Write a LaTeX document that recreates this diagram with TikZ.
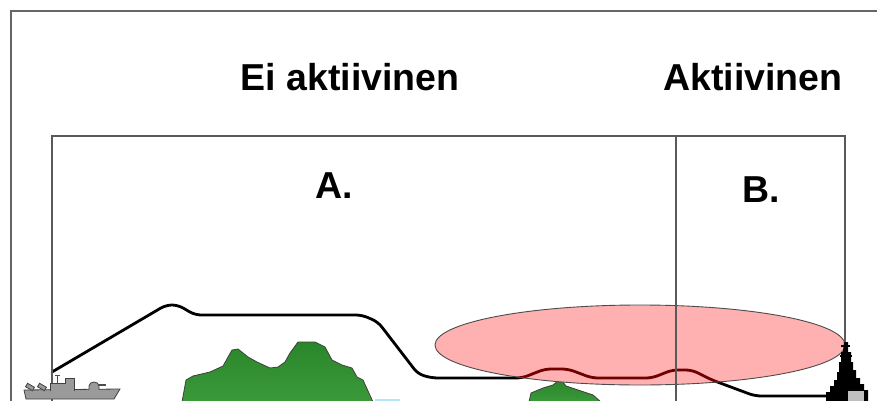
\documentclass[tikz,border=0pt]{standalone}
\usepackage{fontspec}
\setmainfont{Liberation Sans}
\definecolor{hilltop}{HTML}{2A862A}
\definecolor{hillbottom}{HTML}{3A9A3A}
\definecolor{zonepink}{HTML}{FFB0B0}
\definecolor{routered}{HTML}{700000}
\definecolor{shipgray}{HTML}{9A9A9A}
\begin{document}
\begin{tikzpicture}[x=1pt,y=-1pt,
  frameline/.style={draw=black!60, line width=1.6pt},
  boxline/.style={draw=black!65, line width=1.2pt},
  title/.style={font=\fontsize{37.5}{40}\selectfont\bfseries, anchor=base, inner sep=0pt},
  route/.style={line width=2.8pt, line join=round, line cap=round, rounded corners=6pt},
  hill/.style={top color=hilltop, bottom color=hillbottom, draw=black!75, line width=0.8pt},
  zone/.style={fill=zonepink, draw=black!70, line width=0.9pt},
  shippart/.style={fill=shipgray, draw=black!75, line width=0.8pt},
]
\useasboundingbox (0,0) rectangle (877,401);
\clip (0,0) rectangle (877,401);

% outer frame
\draw[frameline] (11,402) -- (11,11) -- (878,11);

% hills
\draw[hill] (182,402) -- (186,380) -- (193,376) -- (210,372) -- (223,366) -- (232,350)
  -- (238,349) -- (248,357) -- (257,362) -- (270,368) -- (278,367) -- (285,362)
  -- (290,353) -- (298,342) -- (315,342) -- (325,347) -- (332,360) -- (342,365)
  -- (352,368) -- (357,377) -- (363,380) -- (373,402) -- cycle;
\draw[hill] (529,402) -- (531,393) -- (543,388) -- (553,385) -- (558,381) -- (562,381)
  -- (566,386) -- (578,390) -- (593,395) -- (601,402) -- cycle;
\draw[cyan!30!white, line width=1.5pt] (375,400) -- (400,400);

% flight path
\def\flightpath{(52,372) -- (166,305) -- (178,305) -- (195,315) -- (362,315) -- (378,322)
  -- (418,374) -- (432,378) -- (522,378) -- (545,369) -- (568,369) -- (592,378)
  -- (652,378) -- (672,370) -- (692,370) -- (712,380) -- (755,396) -- (835,396)}
\draw[route] \flightpath;

% active zone
\fill[zonepink] (640,345) ellipse [x radius=205, y radius=40];
\begin{scope}
  \clip (640,345) ellipse [x radius=205, y radius=40];
  \draw[route, draw=routered] \flightpath;
\end{scope}
\draw[draw=black!70, line width=0.9pt] (640,345) ellipse [x radius=205, y radius=40];

% sector box
\draw[boxline] (52,402) -- (52,136) -- (845,136) -- (845,344);
\draw[boxline] (676,136) -- (676,402);

% left ship
\draw[shippart] (24,390) -- (120,389) -- (114,399) -- (26,399) -- cycle;
\draw[shippart] (50,391) -- (50,383) -- (65,383) -- (65,378) -- (74,378) -- (74,391);
\draw[black!70, line width=0.8pt] (57,383) -- (57,375) (55,375) -- (60,375);
\draw[shippart] (89,390) -- (89,386) to[out=90,in=180] (94,382) to[out=0,in=90] (99,386) -- (99,390);
\draw[black!70, line width=1.8pt] (98,385) -- (106,385);
\draw[shippart, rotate around={-30:(30,387)}] (26,385) rectangle (34,389);
\draw[shippart, rotate around={-30:(42,387)}] (38,385) rectangle (46,389);

% right ship
\fill[black] (844,342) -- (848,342) -- (848,352) -- (851,352) -- (851,362) -- (853,362)
  -- (853,370) -- (856,370) -- (856,378) -- (860,378) -- (860,384) -- (864,384)
  -- (864,390) -- (868,390) -- (868,402) -- (826,402) -- (826,392) -- (830,392)
  -- (830,386) -- (834,386) -- (834,380) -- (837,380) -- (837,372) -- (839,372)
  -- (839,362) -- (841,362) -- (841,352) -- (843,352) -- cycle;
\draw[black, line width=1.2pt] (841,346) -- (850,346) (840,356) -- (852,356);
\fill[black!25] (848,391) rectangle (864,402);

% labels
\node[title] (inactive) at (350,91) {Ei aktiivinen};
\node[title] (active) at (753,91) {Aktiivinen};
\node[title] (zoneA) at (334,198) {A.};
\node[title] (zoneB) at (761,202) {B.};
\end{tikzpicture}
\end{document}
